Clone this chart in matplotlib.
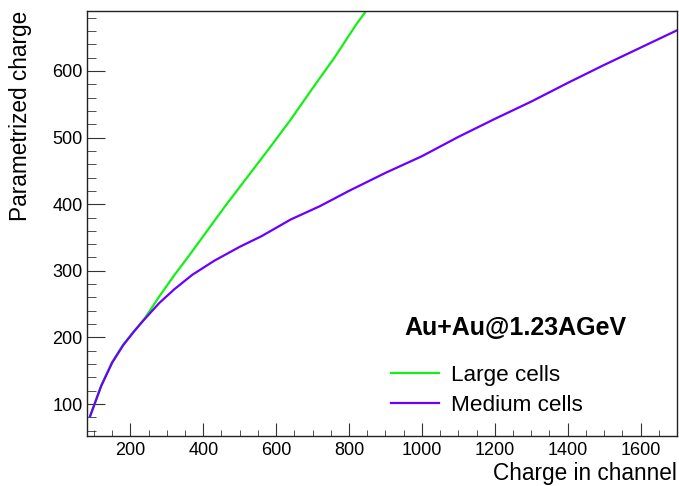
import matplotlib as mpl
mpl.use('Agg')
import matplotlib.pyplot as plt
from matplotlib.ticker import MultipleLocator

plt.rcParams['font.family'] = ['Liberation Sans', 'DejaVu Sans']

# charge in channel vs parametrized charge
large_x = [89, 120, 150, 180, 210, 240, 280, 320, 360, 400, 460, 520, 580,
           640, 700, 760, 820, 860]
large_y = [81, 128, 163, 189, 209, 229, 262, 293, 322, 352, 397, 440, 483,
           527, 574, 620, 670, 700]

medium_x = [89, 120, 150, 180, 210, 240, 280, 320, 370, 430, 500, 560, 640,
            720, 800, 900, 1000, 1100, 1200, 1300, 1400, 1500, 1600, 1700]
medium_y = [81, 127, 162, 188, 209, 228, 252, 272, 294, 315, 336, 352, 377,
            397, 420, 447, 472, 501, 528, 554, 582, 609, 635, 661]

x_ticks = [200, 400, 600, 800, 1000, 1200, 1400, 1600]
y_ticks = [100, 200, 300, 400, 500, 600]

fig = plt.figure(figsize=(6.79, 4.86), dpi=100)
ax = fig.add_axes([87 / 679, 50 / 486, 590 / 679, 425 / 486])

ax.plot(large_x, large_y, color='#14f014', lw=1.6, label='Large cells')
ax.plot(medium_x, medium_y, color='#6a00ff', lw=1.6, label='Medium cells')

ax.set_xlim(81, 1700)
ax.set_ylim(52, 690)

##### axes style, ROOT like #####
ax.set_xticks(x_ticks)
ax.set_yticks(y_ticks)
ax.xaxis.set_minor_locator(MultipleLocator(50))
ax.yaxis.set_minor_locator(MultipleLocator(20))
ax.tick_params(axis='both', which='both', direction='in', colors='#333333',
               labelcolor='black', labelsize=13, top=False, right=False)
ax.tick_params(axis='x', which='major', length=9.4, pad=4.5)
ax.tick_params(axis='x', which='minor', length=4.5)
ax.tick_params(axis='y', which='major', length=13, pad=3)
ax.tick_params(axis='y', which='minor', length=6.5)
for s in ax.spines.values():
    s.set_linewidth(1.0)
    s.set_color('#222222')

ax.set_xlabel('Charge in channel', fontsize=16.3, loc='right')
ax.xaxis.set_label_coords(1.0, -0.062)
ax.set_ylabel('Parametrized charge', fontsize=16.3, loc='top')
ax.yaxis.set_label_coords(-0.093, 1.0)

ax.text((404 - 87) / 590, (436 - 328) / 425, 'Au+Au@1.23AGeV',
        transform=ax.transAxes, fontsize=18, fontweight='bold',
        ha='left', va='center')

ax.legend(loc='upper left', bbox_to_anchor=((391 - 87) / 590, (436 - 365) / 425),
          frameon=False, fontsize=16.2, handlelength=2.15, handletextpad=0.5,
          labelspacing=0.38, borderpad=0, borderaxespad=0)

fig.savefig('out.png', dpi=100)
